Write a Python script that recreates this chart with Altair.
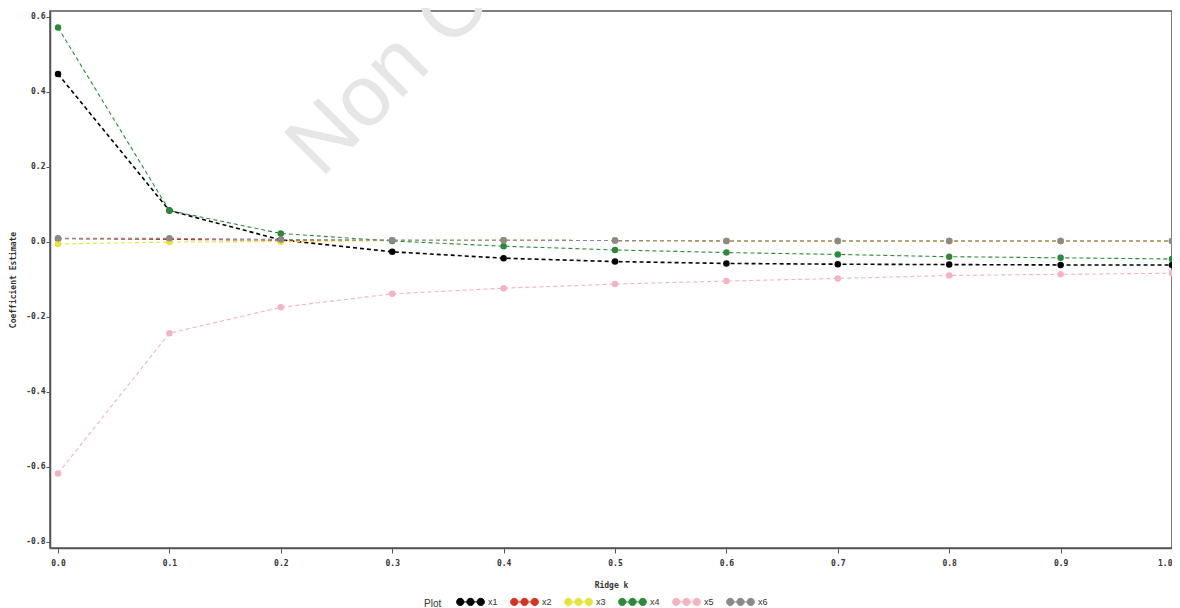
import altair as alt
import pandas as pd

k = [0.0, 0.1, 0.2, 0.3, 0.4, 0.5, 0.6, 0.7, 0.8, 0.9, 1.0]
x1 = [0.447, 0.083, 0.005, -0.027, -0.044, -0.053, -0.058, -0.060, -0.061, -0.062, -0.062]
x2 = [0.008, 0.006, 0.004, 0.004, 0.004, 0.003, 0.002, 0.002, 0.002, 0.002, 0.002]
x3 = [-0.006, -0.001, 0.000, 0.003, 0.004, 0.003, 0.002, 0.002, 0.002, 0.002, 0.002]
x4 = [0.571, 0.083, 0.022, 0.002, -0.012, -0.022, -0.029, -0.034, -0.040, -0.043, -0.046]
x5 = [-0.618, -0.244, -0.175, -0.139, -0.124, -0.113, -0.105, -0.098, -0.090, -0.087, -0.084]
x6 = [0.009, 0.009, 0.006, 0.004, 0.004, 0.003, 0.002, 0.002, 0.002, 0.002, 0.002]

series_names = ["x1", "x2", "x3", "x4", "x5", "x6"]
series_values = [x1, x2, x3, x4, x5, x6]
series_colors = ["#000000", "#d8321f", "#e6e43c", "#2b8a3a", "#f4b3c0", "#8a8a8a"]
y_ticks = [-0.8, -0.6, -0.4, -0.2, 0.0, 0.2, 0.4, 0.6]
x_ticks = k

rows = []
for i, (name, vals) in enumerate(zip(series_names, series_values)):
    for kk, v in zip(k, vals):
        rows.append({"k": kk, "est": v, "series": name, "ord": i})
df = pd.DataFrame(rows)

three_dots = (
    "M-0.99,0 A0.26,0.26 0 1,0 -0.47,0 A0.26,0.26 0 1,0 -0.99,0 Z "
    "M-0.26,0 A0.26,0.26 0 1,0 0.26,0 A0.26,0.26 0 1,0 -0.26,0 Z "
    "M0.47,0 A0.26,0.26 0 1,0 0.99,0 A0.26,0.26 0 1,0 0.47,0 Z "
    "M-0.73,0 L0.73,0"
)

color_scale = alt.Scale(domain=series_names, range=series_colors)

x_enc = alt.X(
    "k:Q",
    title="Ridge k",
    scale=alt.Scale(domain=[-0.0072, 1.0], nice=False, zero=False),
    axis=alt.Axis(values=x_ticks, format=".1f", tickSize=5, labelPadding=6,
                  titlePadding=14),
)
y_enc = alt.Y(
    "est:Q",
    title="Coefficient Estimate",
    scale=alt.Scale(domain=[-0.8168, 0.6152], nice=False, zero=False),
    axis=alt.Axis(values=y_ticks, tickSize=4, labelPadding=1, titlePadding=8,
                  labelExpr="replace(format(datum.value, '.1f'), '\u2212', '-')"),
)

legend = alt.Legend(
    title=["", "Plot"],
    orient="none",
    legendX=374,
    legendY=576,
    direction="horizontal",
    titleOrient="left",
    titleBaseline="top",
    titleLineHeight=3,
    symbolType=three_dots,
    symbolSize=784,
    symbolStrokeWidth=1,
    symbolOpacity=1,
    labelOffset=3,
    columnPadding=10,
)

base = alt.Chart(df)

points = base.mark_point(filled=True, size=42, opacity=1).encode(
    x=x_enc,
    y=y_enc,
    color=alt.Color("series:N", scale=color_scale, legend=legend),
    order=alt.Order("ord:Q"),
)

lines = base.mark_line(strokeDash=[4, 3]).encode(
    x="k:Q",
    y="est:Q",
    color=alt.Color("series:N", scale=color_scale, legend=legend),
    detail="series:N",
    order=alt.Order("k:Q"),
    strokeWidth=alt.condition(alt.datum.series == "x1", alt.value(1.6), alt.value(1.1)),
)

watermark = alt.Chart(pd.DataFrame({"t": ["Non Commercial Use"]})).mark_text(
    font="Liberation Sans", fontSize=86, color="#e6e6e6", angle=315,
    align="left", baseline="alphabetic",
).encode(text="t:N", x=alt.value(271), y=alt.value(168))

chart = alt.layer(watermark, lines, points).properties(
    width=1122,
    height=537,
    padding={"left": 42, "top": 3, "right": 0, "bottom": 60},
    autosize=alt.AutoSizeParams(type="none"),
).configure_view(
    stroke="#555555", strokeWidth=1.5
).configure_axis(
    grid=False,
    domainColor="#555555",
    domainWidth=1.5,
    tickColor="#555555",
    labelFont="DejaVu Sans Mono",
    labelFontWeight="bold",
    labelFontSize=8,
    labelColor="#333333",
    titleFont="DejaVu Sans Mono",
    titleFontWeight="bold",
    titleFontSize=8,
    titleColor="#333333",
).configure_legend(
    labelFont="Liberation Sans",
    labelFontSize=9,
    labelColor="#333333",
    titleFont="Liberation Sans",
    titleFontSize=10,
    titleFontWeight="normal",
    titleColor="#333333",
    titlePadding=14,
)

chart.save("out.html", embed_options={"renderer": "svg", "actions": False})
